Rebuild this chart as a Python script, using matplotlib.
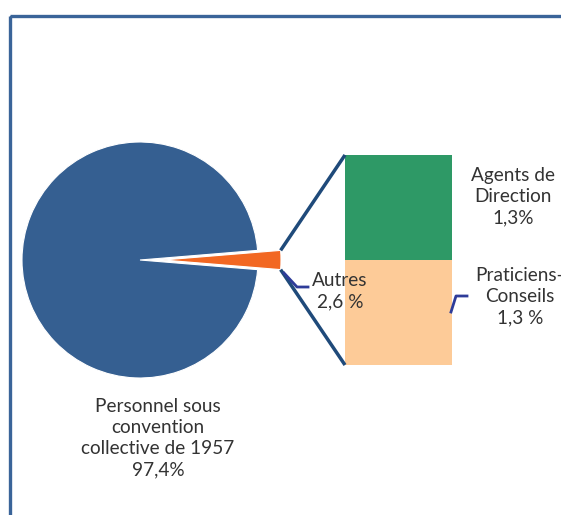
import matplotlib
matplotlib.use("Agg")
import matplotlib.pyplot as plt
from matplotlib.patches import Rectangle
from matplotlib.lines import Line2D
import numpy as np

# Data
pie_labels = ["Autres", "Personnel sous\nconvention\ncollective de 1957"]
pie_values = [2.6, 97.4]
pie_texts = ["Autres\n2,6 %", "Personnel sous\nconvention\ncollective de 1957\n97,4%"]
bar_labels = ["Praticiens-\nConseils\n1,3 %", "Agents de\nDirection\n1,3%"]
bar_values = [1.3, 1.3]

pie_colors = ["#F26722", "#355F91"]
bar_colors = ["#FDCB98", "#2E9966"]
border_col = "#3A6499"
line_col = "#1F4A7A"
leader_col = "#2E3C99"
text_col = "#333333"
FONT = "Lato"
FS = 13.7

W, H = 561, 515
fig = plt.figure(figsize=(W / 100, H / 100), dpi=100)
ax = fig.add_axes([0, 0, 1, 1])

cx, cy, R = 140, 260, 118
explode_px = 23
half = pie_values[0] / 100 * 360 / 2
wedges, _ = ax.pie(pie_values, colors=pie_colors, radius=R, center=(cx, cy),
                   startangle=-half, explode=[explode_px, 0], counterclock=True,
                   wedgeprops=dict(edgecolor="white", linewidth=0.8))
ax.set_xlim(0, W)
ax.set_ylim(H, 0)
ax.set_aspect("equal")
ax.axis("off")
ax.set_zorder(3)

# frame border
ax.add_patch(Rectangle((10.5, 15.5), 600, 600, fill=False, edgecolor=border_col,
                       linewidth=2.4, clip_on=True))

# bar axes
bx0, bx1, by0, by1 = 345, 452, 155, 365
ax2 = fig.add_axes([bx0 / W, 1 - by1 / H, (bx1 - bx0) / W, (by1 - by0) / H])
ax2.set_zorder(1)
bottom = 0
for v, c in zip(bar_values, bar_colors):
    ax2.bar(0, v, width=1, bottom=bottom, color=c, edgecolor="none")
    bottom += v
ax2.set_xlim(-0.5, 0.5)
ax2.set_ylim(0, sum(bar_values))
ax2.axis("off")

# connector lines from exploded wedge corners to bar corners
w = wedges[0]
ecx, ecy = w.center
for ang, (tx, ty) in [(w.theta1, (bx0, by0)), (w.theta2, (bx0, by1))]:
    px = ecx + R * np.cos(np.radians(ang))
    py = ecy + R * np.sin(np.radians(ang))
    ax.add_line(Line2D([px, tx], [py, ty], color=line_col, lw=2.5,
                       solid_capstyle="butt"))

# leaders
ax.add_line(Line2D([284, 297, 308], [273, 287, 287], color=leader_col, lw=2))
ax.add_line(Line2D([451, 456, 467], [312, 296, 296], color=leader_col, lw=2))

tk = dict(ha="center", va="center", color=text_col, fontsize=FS, family=FONT,
          linespacing=1.3)
ax.text(340, 291, pie_texts[0], **tk)
ax.text(158, 438, pie_texts[1], **tk)
ax.text(520, 297, bar_labels[0], **tk)
ax.text(513, 197, bar_labels[1], **tk)

fig.savefig("out.png", dpi=100)
